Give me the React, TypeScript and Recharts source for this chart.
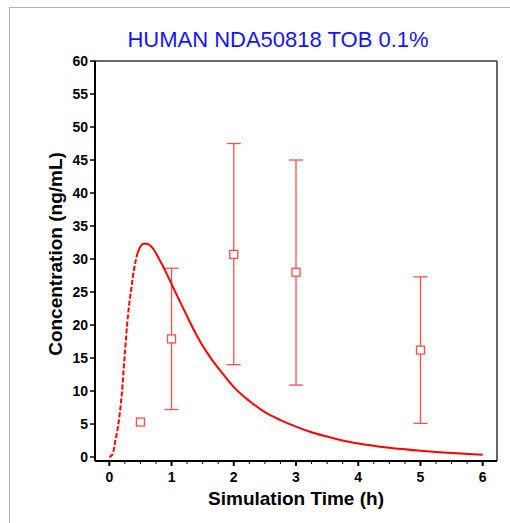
import React from "react"
import { ComposedChart, Line, Scatter, ErrorBar, XAxis, YAxis, ReferenceLine, Label } from "recharts"

// simulated profile (h, ng/mL)
const simTime = [0, 0.05, 0.1, 0.15, 0.2, 0.25, 0.3, 0.35, 0.4, 0.45, 0.5, 0.55, 0.6, 0.7, 0.8, 0.9, 1.0, 1.2, 1.4, 1.6, 1.8, 2.0, 2.25, 2.5, 2.75, 3.0, 3.25, 3.5, 3.75, 4.0, 4.5, 5.0, 5.5, 6.0]
const simConc = [0, 0.4, 2.6, 5.3, 9.5, 15.8, 21.5, 25.3, 28.6, 30.8, 31.9, 32.3, 32.3, 31.6, 30.0, 28.2, 26.2, 22.3, 18.5, 15.4, 12.9, 10.6, 8.5, 6.8, 5.6, 4.6, 3.75, 3.1, 2.5, 2.05, 1.4, 0.95, 0.6, 0.35]
const riseEndTime = 0.45

// observed mean +/- SD
const obsTime = [0.5, 1, 2, 3, 5]
const obsMean = [5.3, 17.9, 30.7, 28.0, 16.2]
const obsLow = [null, 7.2, 14.0, 10.9, 5.1]
const obsHigh = [null, 28.6, 47.5, 45.0, 27.3]

const xLabels = [0, 1, 2, 3, 4, 5, 6]
const xTicks = Array.from({ length: 25 }, (_, i) => i * 0.25)
const yTicks = [0, 5, 10, 15, 20, 25, 30, 35, 40, 45, 50, 55, 60]

const sim = simTime.map((t, i) => ({ t, c: simConc[i] }))
const simRise = sim.filter((d) => d.t <= riseEndTime)
const simFall = sim.filter((d) => d.t >= riseEndTime)

const obs = obsTime.map((t, i) => ({ t, y: obsMean[i] }))
const obsSd = obsTime
  .map((t, i) => ({ t, y: obsMean[i], lo: obsLow[i], hi: obsHigh[i] }))
  .filter((d) => d.lo != null && d.hi != null)
  .map((d) => ({ t: d.t, y: d.y, err: [d.y - (d.lo as number), (d.hi as number) - d.y] }))

const FONT = "'Liberation Sans', Arial, sans-serif"

const XTick = (props: any) => {
  const { x, y, payload } = props
  const major = xLabels.includes(payload.value)
  return (
    <g>
      <line x1={x} x2={x} y1={y} y2={y + (major ? 5 : 3)} stroke="#000" strokeWidth={major ? 2 : 1} />
      {major && (
        <text x={x} y={y + 21} textAnchor="middle" fontFamily={FONT} fontWeight="bold" fontSize={14} fill="#000">
          {payload.value}
        </text>
      )}
    </g>
  )
}

const Square = (props: any) => {
  const { cx, cy } = props
  return <rect x={cx - 4} y={cy - 4} width={8} height={8} fill="#fff" stroke="#ff4d4d" strokeWidth={1.3} />
}

const Nothing = () => <g />

export default function App() {
  return (
    <div style={{ position: "absolute", left: 0, top: 0, width: 510, height: 523, background: "#fff" }}>
      <div
        style={{
          position: "absolute",
          left: 9,
          top: 7,
          right: 0,
          bottom: 0,
          borderLeft: "1px solid #b0b0b0",
          borderTop: "1px solid #b0b0b0",
        }}
      />
      <div
        style={{
          position: "absolute",
          left: 278,
          top: 29,
          transform: "translateX(-50%)",
          whiteSpace: "nowrap",
          fontFamily: FONT,
          fontSize: 22,
          lineHeight: 1,
          color: "#1414ff",
        }}
      >
        HUMAN NDA50818 TOB 0.1%
      </div>
      <ComposedChart
        width={510}
        height={523}
        margin={{ top: 61, right: 13, bottom: 0, left: 0 }}
        style={{ position: "absolute", left: 0, top: 0 }}
      >
        <XAxis
          dataKey="t"
          type="number"
          domain={[-0.23, 6.23]}
          allowDataOverflow
          ticks={xTicks}
          interval={0}
          tick={<XTick />}
          tickLine={false}
          tickSize={0}
          tickMargin={0}
          height={62}
          axisLine={{ stroke: "#000", strokeWidth: 2 }}
        >
          <Label
            value="Simulation Time (h)"
            position="insideBottom"
            offset={18}
            style={{ fontFamily: FONT, fontWeight: "bold", fontSize: 19, fill: "#000" }}
          />
        </XAxis>
        <YAxis
          type="number"
          domain={[-0.6, 60]}
          allowDataOverflow
          ticks={yTicks}
          interval={0}
          width={95}
          tickSize={5}
          tickMargin={2}
          tickLine={{ stroke: "#000", strokeWidth: 1.5 }}
          axisLine={{ stroke: "#000", strokeWidth: 2 }}
          tick={{ fontFamily: FONT, fontWeight: "bold", fontSize: 14, fill: "#000" }}
        >
          <Label
            content={(p: any) => {
              const vb = p.viewBox || { x: 0, y: 61, height: 400 }
              const cx = vb.x + 55
              const cy = vb.y + vb.height / 2 - 7
              return (
                <text
                  x={cx}
                  y={cy}
                  transform={`rotate(-90, ${cx}, ${cy})`}
                  textAnchor="middle"
                  dominantBaseline="central"
                  fontFamily={FONT}
                  fontWeight="bold"
                  fontSize={19}
                  fill="#000"
                >
                  Concentration (ng/mL)
                </text>
              )
            }}
          />
        </YAxis>
        <ReferenceLine y={60} stroke="#666" strokeWidth={2} />
        <ReferenceLine x={6.23} stroke="#666" strokeWidth={2} />
        <Scatter data={obsSd} dataKey="y" shape={<Nothing />} isAnimationActive={false}>
          <ErrorBar dataKey="err" direction="y" width={7} stroke="#ff4d4d" strokeWidth={1.3} isAnimationActive={false} />
        </Scatter>
        <Scatter data={obs} dataKey="y" shape={<Square />} isAnimationActive={false} />
        <Line
          data={simRise}
          dataKey="c"
          type="monotone"
          stroke="#ff0000"
          strokeWidth={2}
          strokeDasharray="5 2"
          dot={false}
          activeDot={false}
          isAnimationActive={false}
        />
        <Line
          data={simFall}
          dataKey="c"
          type="monotone"
          stroke="#ff0000"
          strokeWidth={2}
          dot={false}
          activeDot={false}
          isAnimationActive={false}
        />
      </ComposedChart>
    </div>
  )
}
